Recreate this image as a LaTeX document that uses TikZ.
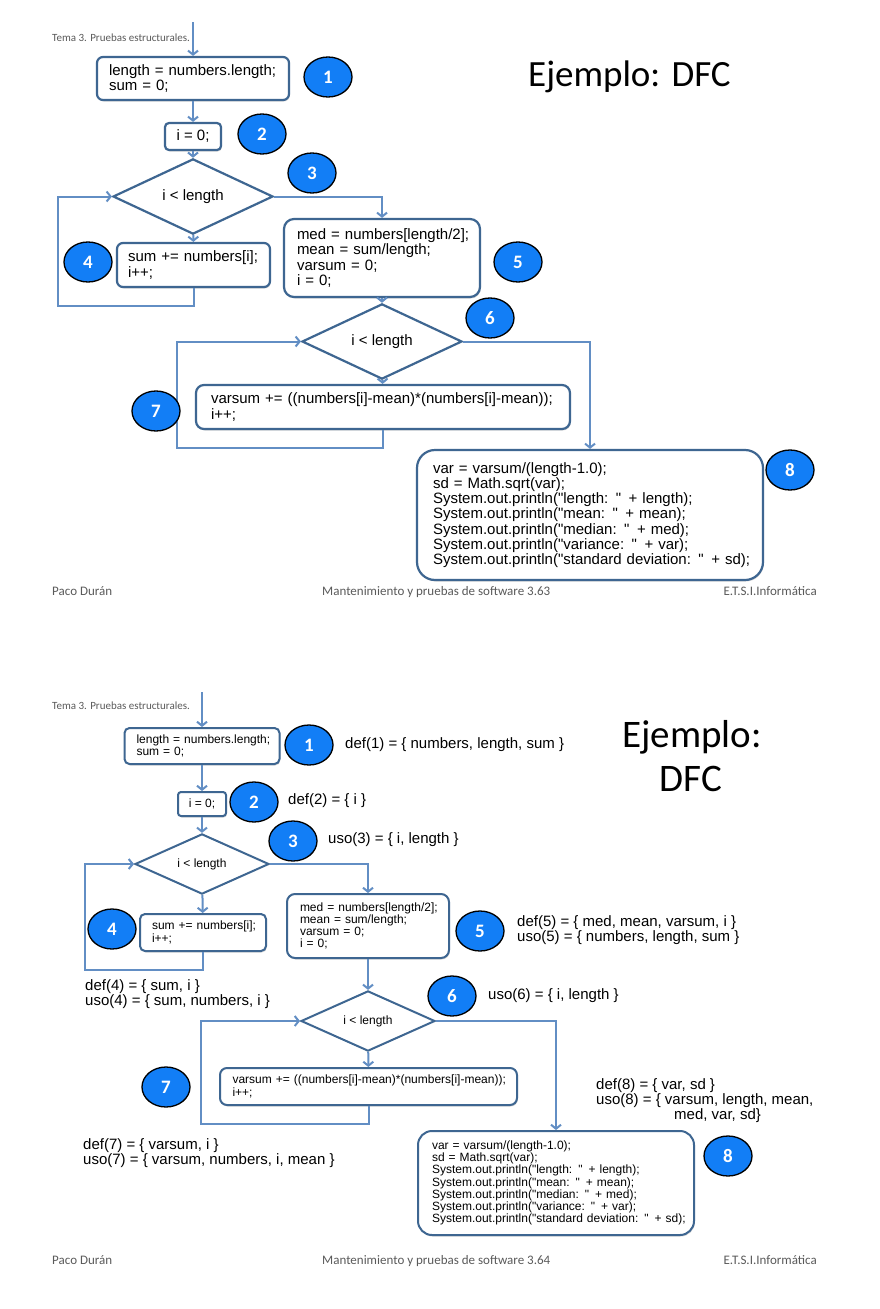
\documentclass[tikz,border=0pt]{standalone}
\usepackage{fontspec}
\setmainfont{Liberation Sans}
\newfontfamily\calib{Carlito}
\usetikzlibrary{shapes.geometric,arrows.meta,shadows}
\definecolor{conn}{RGB}{98,142,196}
\definecolor{bord}{RGB}{62,102,145}
\definecolor{cfill}{RGB}{18,126,246}
\definecolor{foot}{RGB}{90,90,90}
\newcommand\ql{\textquotedbl}
\newcommand\cdl[1]{\mbox{#1}}
\tikzset{
  arr/.style={draw=conn,line width=2pt,-{Straight Barb[length=4pt,width=10pt]}},
  shd/.style={drop shadow={shadow xshift=0.8pt,shadow yshift=-1.5pt,opacity=0.25,fill=black!60}},
  cbox/.style={draw=bord,line width=2.2pt,fill=white,align=left,inner ysep=0pt,shd},
  cbig/.style={cbox,font=\fontsize{15}{15.2}\selectfont},
  csmall/.style={cbox,line width=2pt,font=\fontsize{12}{12.2}\selectfont},
  dia/.style={diamond,draw=bord,line width=2.2pt,fill=white,inner sep=0pt},
  num/.style={ellipse,draw=black,line width=1.3pt,fill=cfill,text=white,minimum width=48pt,minimum height=40pt,inner sep=0pt,font=\calib\bfseries\fontsize{19}{19}\selectfont},
  lbl/.style={anchor=west,inner sep=0pt,align=left,font=\fontsize{15}{15}\selectfont},
  hdr/.style={anchor=base west,inner sep=0pt,text=foot,font=\calib\fontsize{11}{12}\selectfont},
  ftr/.style={inner sep=0pt,text=foot,font=\calib\fontsize{13}{14}\selectfont},
  ttl/.style={inner sep=0pt,font=\calib\fontsize{37}{40}\selectfont},
  ttlb/.style={inner sep=0pt,font=\calib\fontsize{39}{42}\selectfont}
}
\begin{document}
\begin{tikzpicture}[x=1pt,y=-1pt]
\useasboundingbox[fill=white] (0,0) rectangle (880,1309);

% ================= Slide 1 =================
\node[hdr] (h1) at (52,41) {Tema 3. Pruebas estructurales.};
\node[ttl,anchor=base west] (t1) at (528,86) {Ejemplo: DFC};

\node[cbig,rounded corners=6pt,minimum width=192pt,minimum height=43pt,inner xsep=12pt,text width=168pt] (a1) at (193,78.5) {\cdl{length = numbers.length;}\\\cdl{sum = 0;}};
\node[cbig,rounded corners=4pt,minimum width=56pt,minimum height=27pt,inner xsep=0pt,align=center] (a2) at (193,136.5) {i = 0;};
\node[dia,minimum width=160pt,minimum height=47pt,font=\fontsize{15}{15}\selectfont] (ad1) at (193,196.5) {i < length};
\node[cbig,rounded corners=6pt,minimum width=153pt,minimum height=44pt,inner xsep=11pt,text width=131pt] (a4) at (193.5,265) {\cdl{sum += numbers[i];}\\\cdl{i++;}};
\node[cbig,rounded corners=10pt,minimum width=196pt,minimum height=78pt,inner xsep=13pt,text width=170pt] (a5) at (382,258) {\cdl{med = numbers[length/2];}\\\cdl{mean = sum/length;}\\\cdl{varsum = 0;}\\\cdl{i = 0;}};
\node[dia,minimum width=160pt,minimum height=47pt,font=\fontsize{15}{15}\selectfont] (ad2) at (382,341.5) {i < length};
\node[cbig,rounded corners=8pt,minimum width=374pt,minimum height=44pt,inner xsep=15pt,text width=344pt] (a7) at (383,407) {\cdl{varsum += ((numbers[i]-mean)*(numbers[i]-mean));}\\\cdl{i++;}};
\node[cbig,rounded corners=18pt,minimum width=346pt,minimum height=130pt,inner xsep=16pt,text width=314pt] (a8) at (590,515) {\cdl{var = varsum/(length-1.0);}\\\cdl{sd = Math.sqrt(var);}\\\cdl{System.out.println(\ql length: \ql{} + length);}\\\cdl{System.out.println(\ql mean: \ql{} + mean);}\\\cdl{System.out.println(\ql median: \ql{} + med);}\\\cdl{System.out.println(\ql variance: \ql{} + var);}\\\cdl{System.out.println(\ql standard deviation: \ql{} + sd);}};

\coordinate (as) at (193,22);
\coordinate (al1) at (58,306);
\coordinate (al2) at (177,448);
\draw[arr] (as) -- (a1);
\draw[arr] (a1) -- (a2);
\draw[arr] (a2) -- (ad1);
\draw[arr] (ad1) -- (a4);
\draw[arr] (a4.south) |- (al1) |- (ad1.west);
\draw[arr] (ad1.east) -| (a5.north);
\draw[arr] (a5) -- (ad2);
\draw[arr] (ad2) -- (a7);
\draw[arr] (a7.south) |- (al2) |- (ad2.west);
\draw[arr] (ad2.east) -| (a8.north);

\node[num] (n1) at (328,77) {1};
\node[num] (n2) at (262,134) {2};
\node[num] (n3) at (312,173) {3};
\node[num] (n4) at (88,262) {4};
\node[num] (n5) at (518,262) {5};
\node[num] (n6) at (490,318) {6};
\node[num] (n7) at (156,411) {7};
\node[num] (n8) at (790,470) {8};

\node[ftr,anchor=base west] (f1a) at (52,595) {Paco Durán};
\node[ftr,anchor=base west] (f1b) at (322,595) {Mantenimiento y pruebas de software 3.63};
\node[ftr,anchor=base east] (f1c) at (817,595) {E.T.S.I.Informática};

% ================= Slide 2 =================
\node[hdr] (h2) at (52,709) {Tema 3. Pruebas estructurales.};
\node[ttlb,anchor=base] (t2a) at (692,747) {Ejemplo:};
\node[ttlb,anchor=base] (t2b) at (691,791) {DFC};

\node[csmall,rounded corners=5pt,minimum width=155pt,minimum height=36pt,inner xsep=12pt,text width=131pt] (b1) at (202,746) {\cdl{length = numbers.length;}\\\cdl{sum = 0;}};
\node[csmall,rounded corners=3pt,minimum width=48pt,minimum height=24pt,inner xsep=0pt,align=center] (b2) at (202,804) {i = 0;};
\node[dia,line width=2pt,minimum width=134pt,minimum height=40pt,font=\fontsize{12}{12}\selectfont] (bd1) at (202,864) {i < length};
\node[csmall,rounded corners=5pt,minimum width=126pt,minimum height=37pt,inner xsep=12pt,text width=102pt] (b4) at (203,932.5) {\cdl{sum += numbers[i];}\\\cdl{i++;}};
\node[csmall,rounded corners=8pt,minimum width=162pt,minimum height=64pt,inner xsep=13pt,text width=136pt] (b5) at (368,926) {\cdl{med = numbers[length/2];}\\\cdl{mean = sum/length;}\\\cdl{varsum = 0;}\\\cdl{i = 0;}};
\node[dia,line width=2pt,minimum width=134pt,minimum height=40pt,font=\fontsize{12}{12}\selectfont] (bd2) at (368,1021) {i < length};
\node[csmall,rounded corners=7pt,minimum width=297pt,minimum height=37pt,inner xsep=12.5pt,text width=272pt] (b7) at (368.5,1086.5) {\cdl{varsum += ((numbers[i]-mean)*(numbers[i]-mean));}\\\cdl{i++;}};
\node[csmall,rounded corners=14pt,minimum width=276pt,minimum height=104pt,inner xsep=14pt,text width=248pt] (b8) at (556,1183) {\cdl{var = varsum/(length-1.0);}\\\cdl{sd = Math.sqrt(var);}\\\cdl{System.out.println(\ql length: \ql{} + length);}\\\cdl{System.out.println(\ql mean: \ql{} + mean);}\\\cdl{System.out.println(\ql median: \ql{} + med);}\\\cdl{System.out.println(\ql variance: \ql{} + var);}\\\cdl{System.out.println(\ql standard deviation: \ql{} + sd);}};

\coordinate (bs) at (202,692);
\coordinate (bl1) at (85,970);
\coordinate (bl2) at (201,1124);
\draw[arr] (bs) -- (b1);
\draw[arr] (b1) -- (b2);
\draw[arr] (b2) -- (bd1);
\draw[arr] (bd1) -- (b4);
\draw[arr] (b4.south) |- (bl1) |- (bd1.west);
\draw[arr] (bd1.east) -| (b5.north);
\draw[arr] (b5) -- (bd2);
\draw[arr] (bd2) -- (b7);
\draw[arr] (b7.south) |- (bl2) |- (bd2.west);
\draw[arr] (bd2.east) -| (b8.north);

\node[num] (m1) at (309,745) {1};
\node[num] (m2) at (254,802) {2};
\node[num] (m3) at (293,841) {3};
\node[num] (m4) at (112,929) {4};
\node[num] (m5) at (480,931) {5};
\node[num] (m6) at (452,996) {6};
\node[num] (m7) at (166,1087) {7};
\node[num] (m8) at (728,1156) {8};

\node[lbl] (d1) at (345,745) {def(1) = \{ numbers, length, sum \}};
\node[lbl] (d2) at (288,801) {def(2) = \{ i \}};
\node[lbl] (d3) at (328,840) {uso(3) = \{ i, length \}};
\node[lbl] (d5) at (517,930.5) {def(5) = \{ med, mean, varsum, i \}\\uso(5) = \{ numbers, length, sum \}};
\node[lbl] (d4) at (85,994.5) {def(4) = \{ sum, i \}\\uso(4) = \{ sum, numbers, i \}};
\node[lbl] (d6) at (488,996) {uso(6) = \{ i, length \}};
\node[lbl] (d7) at (83,1153.5) {def(7) = \{ varsum, i \}\\uso(7) = \{ varsum, numbers, i, mean \}};
\node[lbl] (d8) at (596,1101) {def(8) = \{ var, sd \}\\uso(8) = \{ varsum, length, mean,\\\hspace*{78pt}med, var, sd\}};

\node[ftr,anchor=base west] (f2a) at (52,1264) {Paco Durán};
\node[ftr,anchor=base west] (f2b) at (322,1264) {Mantenimiento y pruebas de software 3.64};
\node[ftr,anchor=base east] (f2c) at (817,1264) {E.T.S.I.Informática};
\end{tikzpicture}
\end{document}
